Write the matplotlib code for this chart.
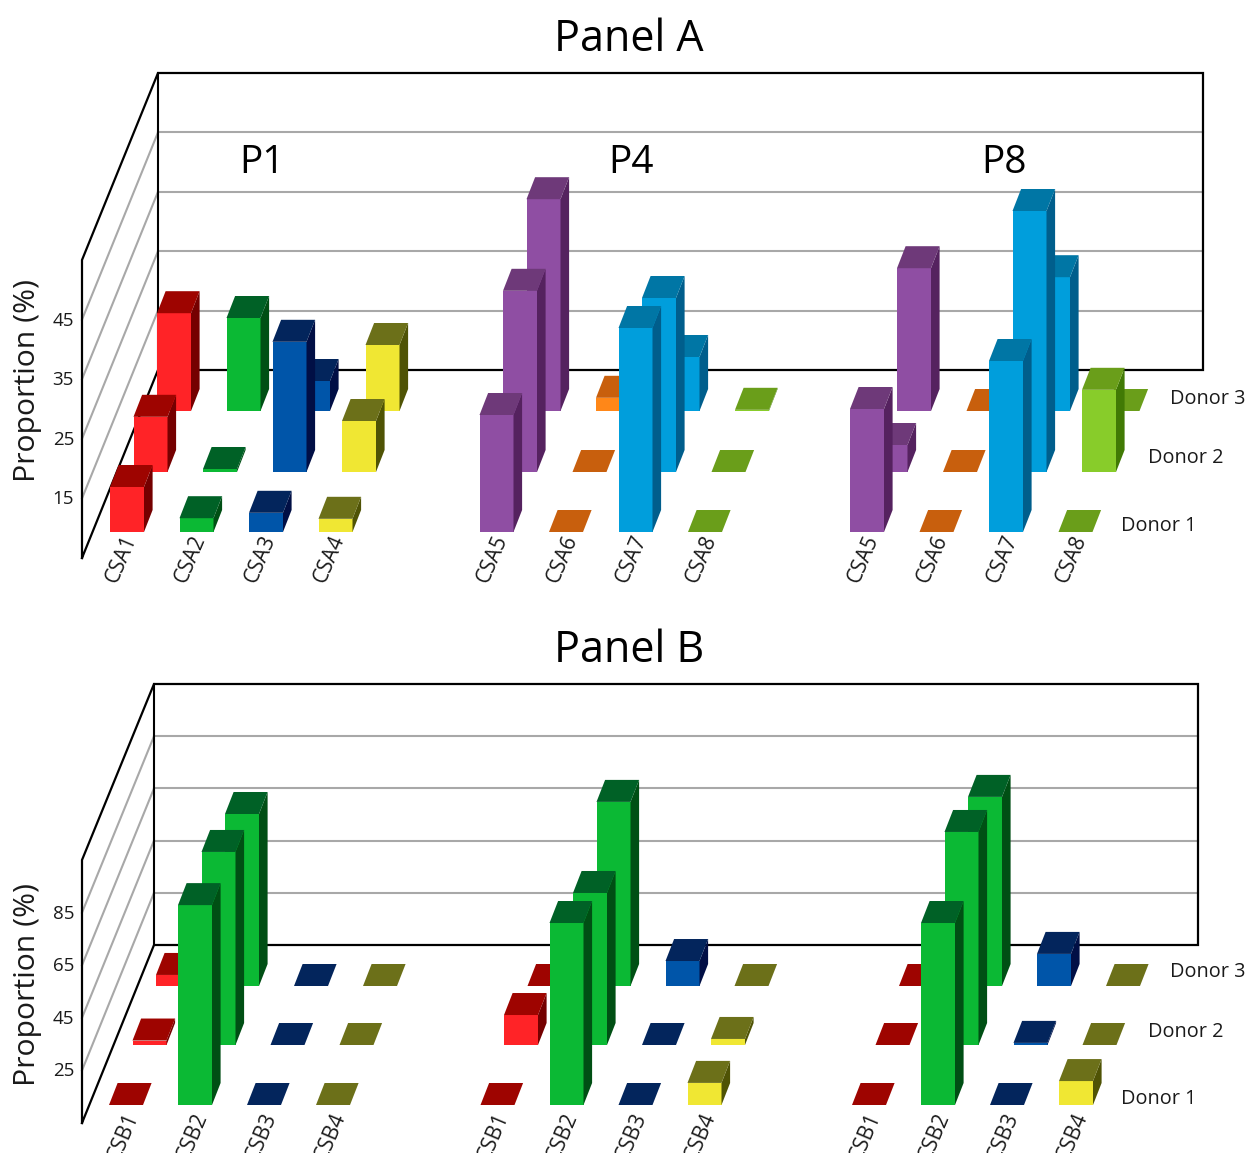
import matplotlib
matplotlib.use('Agg')
import matplotlib.pyplot as plt
from matplotlib.patches import Polygon

plt.rcParams['font.family'] = ['Open Sans', 'DejaVu Sans']

donors = ['Donor 1', 'Donor 2', 'Donor 3']
groups = ['P1', 'P4', 'P8']

# Panel A values (%), rows are donor 1, 2, 3
a_p1_labels = ['CSA1', 'CSA2', 'CSA3', 'CSA4']
a_p1 = [[12.5, 7.3, 8.2, 7.2],
        [14.2, 5.5, 26.7, 13.5],
        [21.3, 20.5, 10.0, 16.0]]
a_p4_labels = ['CSA5', 'CSA6', 'CSA7', 'CSA8']
a_p4 = [[24.5, 5, 39.0, 5],
        [35.2, 5, 34.0, 5],
        [40.3, 7.2, 14.0, 5.2]]
a_p8_labels = ['CSA5', 'CSA6', 'CSA7', 'CSA8']
a_p8 = [[25.5, 5, 33.5, 5],
        [9.5, 5, 48.5, 18.7],
        [28.8, 5, 27.3, 5]]

# Panel B values (%)
b_labels = ['CSB1', 'CSB2', 'CSB3', 'CSB4']
b_p1 = [[5, 81.0, 5, 5],
        [6.7, 78.4, 5, 5],
        [9.2, 70.4, 5, 5]]
b_p4 = [[5, 74.2, 5, 13.4],
        [16.4, 62.8, 5, 7.3],
        [5, 75.0, 14.5, 5]]
b_p8 = [[5, 74.2, 5, 14.1],
        [5, 86.0, 5.8, 5],
        [5, 76.9, 17.2, 5]]

a_ticks = [15, 25, 35, 45]
b_ticks = [25, 45, 65, 85]

# front, top, side
red = ('#FF2327', '#9E0400', '#750000')
green = ('#0BB934', '#006126', '#004F14')
blue = ('#0055A9', '#03255C', '#010F45')
yellow = ('#F0E733', '#6C7019', '#4F5305')
purple = ('#8F4EA3', '#6E3979', '#55225F')
orange = ('#FF8718', '#C85F0D', '#9C4A05')
sky = ('#009EDC', '#0076A5', '#005E8C')
lime = ('#88CC2A', '#6A9E1A', '#417A05')

fig = plt.figure(figsize=(12.45, 11.53), dpi=100)
ax = fig.add_axes([0, 0, 1, 1])
ax.set_xlim(0, 1245)
ax.set_ylim(1153, 0)
ax.axis('off')

BAR_W = 34
DEPTH_X = 8.6
DEPTH_Y = 22


def draw_bar(x, base, h, colors, z):
    front, top, side = colors
    t = base - h
    if h > 0:
        ax.add_patch(Polygon([(x, base), (x + BAR_W, base), (x + BAR_W, t), (x, t)],
                             fc=front, ec='none', zorder=z))
        ax.add_patch(Polygon([(x + BAR_W, base), (x + BAR_W + DEPTH_X, base - DEPTH_Y),
                              (x + BAR_W + DEPTH_X, t - DEPTH_Y), (x + BAR_W, t)],
                             fc=side, ec='none', zorder=z))
    ax.add_patch(Polygon([(x, t), (x + BAR_W, t), (x + BAR_W + DEPTH_X, t - DEPTH_Y),
                          (x + DEPTH_X, t - DEPTH_Y)], fc=top, ec='none', zorder=z))


def draw_panel(title, title_y, wall, front_x, scale, ticks, sets, rows_y, row_dx, col_dx,
               label_y, donor_y, ylabel_y):
    back_x, right_x, top_y, floor_y, front_floor, front_top = wall
    # wall spans five tick steps
    step = ticks[1] - ticks[0]
    for t in ticks:
        off_back = (t - 5) / (5 * step) * (floor_y - top_y)
        off_front = (t - 5) / (5 * step) * (front_floor - front_top)
        ax.plot([front_x, back_x], [front_floor - off_front, floor_y - off_back],
                color='#a8a8a8', lw=1.5, zorder=1)
        ax.plot([back_x, right_x], [floor_y - off_back, floor_y - off_back],
                color='#a8a8a8', lw=1.5, zorder=1)
        ax.text(front_x - 8, front_floor - off_front + 1, str(t), ha='right', va='center',
                fontsize=13.5, color='#1a1a1a')
    ax.plot([front_x, front_x, back_x, right_x, right_x, back_x, front_x],
            [front_floor, front_top, top_y, top_y, floor_y, floor_y, front_floor],
            color='black', lw=1.6, zorder=2, solid_joinstyle='miter')
    ax.plot([back_x, back_x], [top_y, floor_y], color='black', lw=1.5, zorder=2)

    for x0, labels, vals, palette, lab_off in sets:
        for r in [2, 1, 0]:
            for c in range(4):
                h = (vals[r][c] - 5) * scale
                x = x0 + c * col_dx + r * row_dx
                draw_bar(x, rows_y[r], h, palette[c], z=10 + (2 - r) * 10 + c)
        for c, lab in enumerate(labels):
            ax.text(x0 + c * col_dx + lab_off, label_y, lab, rotation=67, ha='center', va='center',
                    fontsize=15, color='#1a1a1a')

    ax.text(629, title_y, title, ha='center', va='center', fontsize=31, color='black')
    ax.text(28, ylabel_y, 'Proportion (%)', rotation=90, ha='center', va='center',
            fontsize=21.7, color='#1a1a1a')
    for name, px, py in zip(donors, [1121, 1148, 1170], donor_y):
        ax.text(px, py, name, ha='left', va='center', fontsize=14.3, color='#1a1a1a')


pal_a1 = [red, green, blue, yellow]
pal_a2 = [purple, orange, sky, lime]

draw_panel('Panel A', 40, (158, 1203, 73, 370, 558, 260), 82, 6.0, a_ticks,
           [(110, a_p1_labels, a_p1, pal_a1, 11),
            (479.5, a_p4_labels, a_p4, pal_a2, 13),
            (850, a_p8_labels, a_p8, pal_a2, 13)],
           [532, 472, 411], 23.5, 69.5, 559, [526, 458, 399], 380)

draw_panel('Panel B', 651, (154, 1198, 684, 945, 1123, 860), 82, 2.63, b_ticks,
           [(109, b_labels, b_p1, pal_a1, 14),
            (480.5, b_labels, b_p4, pal_a1, 13),
            (852, b_labels, b_p8, pal_a1, 13)],
           [1105, 1045, 986], 23.5, 69, 1137, [1099, 1032, 972], 985)

for name, x in zip(groups, [262, 631, 1004]):
    ax.text(x, 163, name, ha='center', va='center', fontsize=28, color='black')

fig.savefig('out.png', dpi=100)
